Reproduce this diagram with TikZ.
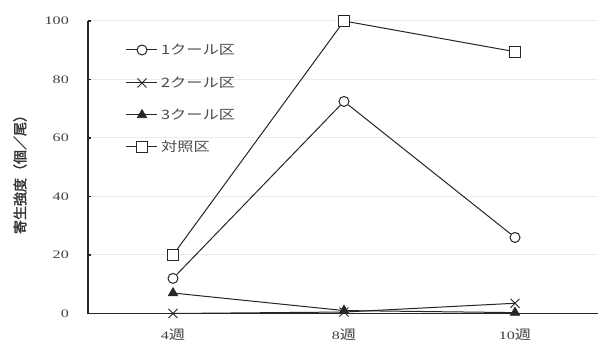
\documentclass[tikz,border=0pt]{standalone}
\usepackage{fontspec}
\setmainfont{Liberation Serif}
\newfontfamily\tickfont[FakeStretch=1.4]{Liberation Serif}
\newfontfamily\jp{Noto Sans CJK JP}
\newfontfamily\jpw[FakeStretch=1.25]{Noto Sans CJK JP}
\newfontfamily\jpb[FakeBold=2]{Noto Sans CJK JP}
\usetikzlibrary{shapes.geometric,shapes.misc}
\tikzset{
  axisline/.style={draw=black!85, line width=1.6pt},
  gridline/.style={draw=black!8, line width=1pt},
  dataline/.style={draw=black!85, line width=1pt},
  mcirc/.style={circle, draw=black!85, fill=white, line width=1pt, minimum size=10pt, inner sep=0pt},
  msq/.style={rectangle, draw=black!85, fill=white, line width=1pt, minimum size=11pt, inner sep=0pt},
  mtri/.style={regular polygon, regular polygon sides=3, draw=black!85, fill=black!85, line width=0.6pt, minimum size=11pt, inner sep=0pt},
  mx/.style={cross out, draw=black!85, line width=1pt, minimum size=8pt, inner sep=0pt},
  ticklab/.style={anchor=east, font=\tickfont\fontsize{11.5}{14}\selectfont, text=black!75, inner sep=0pt},
  xlab/.style={anchor=center, font=\tickfont\fontsize{11.5}{14}\selectfont, text=black!75, inner sep=0pt},
  leglab/.style={anchor=west, font=\jpw\fontsize{13}{15}\selectfont, text=black!70, inner sep=0pt},
}
\begin{document}
\begin{tikzpicture}[x=1pt,y=1pt]
\useasboundingbox (0,0) rectangle (605,347);
\fill[white] (0,0) rectangle (605,347);
% data scope: x in px, y in value units
\begin{scope}[shift={(0,33.5)}, y=2.925pt]
  % grid
  \foreach \v in {20,40,60,80,100} {
    \coordinate (gl\v) at (88,\v);
    \coordinate (gr\v) at (598,\v);
    \draw[gridline] (gl\v) -- (gr\v);
    \node[ticklab] (t\v) at (69,\v) {\v};
  }
  \node[ticklab] (t0) at (69,0) {0};
  % axes
  \coordinate (o) at (88,0);
  \coordinate (ytop) at (88,100);
  \coordinate (xend) at (598,0);
  \draw[axisline] (ytop) -- (o) -- (xend);
  \foreach \v in {20,40,60,80,100} {
    \coordinate (tk\v) at (91,\v);
    \draw[axisline, line width=1.2pt] (gl\v) -- (tk\v);
  }
  % x labels
  \node[xlab] (x4) at (173,-7.3) {4{\jpw\fontsize{13}{15}\selectfont 週}};
  \node[xlab] (x8) at (344,-7.3) {8{\jpw\fontsize{13}{15}\selectfont 週}};
  \node[xlab] (x10) at (515,-7.3) {10{\jpw\fontsize{13}{15}\selectfont 週}};
  % series 4 (対照区)
  \node[msq] (d4a) at (173,20) {};
  \node[msq] (d4b) at (344,100) {};
  \node[msq] (d4c) at (515,89.5) {};
  \draw[dataline] (d4a) -- (d4b) -- (d4c);
  % series 1
  \node[mcirc] (d1a) at (173,12) {};
  \node[mcirc] (d1b) at (344,72.5) {};
  \node[mcirc] (d1c) at (515,26) {};
  \draw[dataline] (d1a) -- (d1b) -- (d1c);
  % series 3
  \node[mtri] (d3a) at (173,7) {};
  \node[mtri] (d3b) at (344,1) {};
  \node[mtri] (d3c) at (515,0.3) {};
  \draw[dataline] (d3a.center) -- (d3b.center) -- (d3c.center);
  % series 2
  \node[mx] (d2a) at (173,0) {};
  \node[mx] (d2b) at (344,0.5) {};
  \node[mx] (d2c) at (515,3.5) {};
  \draw[dataline] (d2a.center) -- (d2b.center) -- (d2c.center);
\end{scope}
% legend
\foreach \i/\yy/\st/\lab in {1/297/mcirc/{1クール区}, 2/264/mx/{2クール区}, 3/232/mtri/{3クール区}, 4/200/msq/{対照区}} {
  \coordinate (la\i) at (126,\yy);
  \coordinate (lb\i) at (157,\yy);
  \draw[dataline] (la\i) -- (lb\i);
  \node[\st] (lm\i) at (142,\yy) {};
  \node[leglab] (lt\i) at (161,\yy) {\lab};
}
% y-axis title
\node[rotate=90, font=\jpb\fontsize{14}{16}\selectfont, text=black!80] (ylab) at (20,176) {寄生強度（個／尾）};
\end{tikzpicture}
\end{document}
